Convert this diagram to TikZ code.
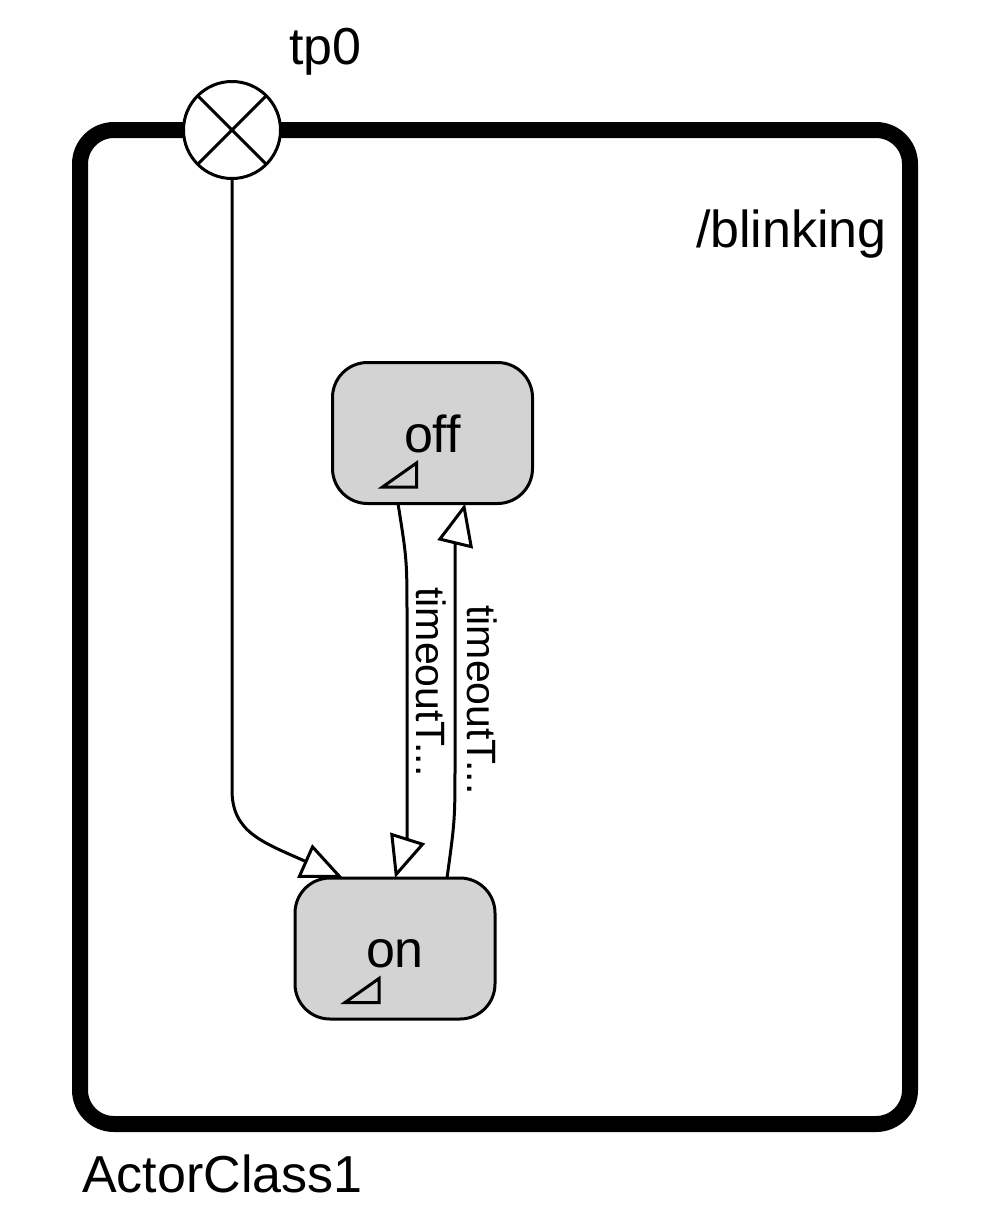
\documentclass[tikz,border=0pt]{standalone}
\usepackage{fontspec}
\setmainfont{Liberation Sans}
\usetikzlibrary{arrows.meta,calc}
\definecolor{stategray}{RGB}{211,211,211}
\begin{document}
\begin{tikzpicture}[x=1pt,y=-1pt,
  big/.style={font=\fontsize{52}{62}\selectfont, inner sep=0pt},
  lbl/.style={font=\fontsize{41}{49}\selectfont, rotate=-90, inner sep=0pt},
  statebox/.style={draw, line width=3pt, fill=stategray, rounded corners=35pt,
    minimum width=200pt, minimum height=141pt, inner sep=0pt, outer sep=0pt,
    text height=38pt, text depth=0pt, font=\fontsize{52}{62}\selectfont},
  tr/.style={line width=3pt, -{Triangle[length=42pt,width=36pt,fill=white]}},
  histmark/.style={line width=3pt, line join=miter},
]
\useasboundingbox (0,0) rectangle (993,1232);
% frame
\draw[line width=16pt, rounded corners=34pt] (80,130) rectangle (910,1124);
\node[big, anchor=base west] (name) at (82,1192) {ActorClass1};
\node[big, anchor=base east] (entry) at (887,247) {/blinking};
% transition point
\node[circle, draw, line width=3pt, fill=white, minimum size=97pt, inner sep=0pt, outer sep=0pt] (tp0) at (232,130) {};
\draw[line width=3pt] ($(tp0.center)+(135:48.5)$) -- ($(tp0.center)+(-45:48.5)$);
\draw[line width=3pt] ($(tp0.center)+(45:48.5)$) -- ($(tp0.center)+(-135:48.5)$);
\node[big, anchor=base west] (tp0lbl) at (289,64) {tp0};
% states
\node[statebox] (off) at (432.5,433) {off};
\node[statebox] (on) at (395,948.5) {on};
\draw[histmark] ($(off.center)+(-50,54)$) -- ($(off.center)+(-16,30)$) -- ($(off.center)+(-16,54)$) -- cycle;
\draw[histmark] ($(on.center)+(-50,54)$) -- ($(on.center)+(-16,30)$) -- ($(on.center)+(-16,54)$) -- cycle;
% transitions
\coordinate (tpA) at ($(on.north)+(-52,0)$);
\coordinate (offL) at ($(off.south)+(-34.5,0)$);
\coordinate (offR) at ($(off.south)+(32.5,0)$);
\coordinate (onL) at ($(on.north)+(0,0)$);
\coordinate (onR) at ($(on.north)+(52,0)$);
\draw[tr] (tp0.south) -- (232,790) .. controls (232,832) and (262,842) .. (tpA);
\draw[tr] (offL) .. controls (407,560) .. (407,620) -- (407,800) .. controls (407,840) .. (onL);
\draw[tr] (onR) .. controls (455,820) .. (455,760) -- (455,585) .. controls (455,545) .. (offR);
\node[lbl] (l1) at (431,682) {timeoutT...};
\node[lbl] (l2) at (482,700) {timeoutT...};
\end{tikzpicture}
\end{document}
